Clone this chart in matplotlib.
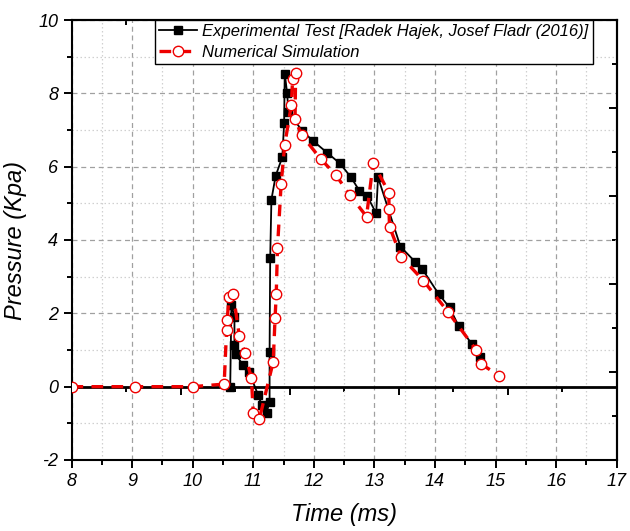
import matplotlib
matplotlib.use("Agg")
import matplotlib.pyplot as plt
from matplotlib.ticker import MultipleLocator, NullFormatter

plt.rcParams['font.family'] = ['Liberation Sans', 'DejaVu Sans']
plt.rcParams['font.style'] = 'italic'
plt.rcParams['axes.unicode_minus'] = False

# Experimental test data (time ms, pressure kPa)
exp_t = [10.62, 10.64, 10.69, 10.69, 10.71, 10.83, 10.93, 11.08, 11.14, 11.22, 11.27,
         11.27, 11.28, 11.30, 11.37, 11.48, 11.51, 11.52, 11.56, 11.58, 11.81, 11.99,
         12.22, 12.43, 12.61, 12.75, 12.88, 13.03, 13.06, 13.43, 13.67, 13.79, 14.06,
         14.24, 14.39, 14.61, 14.74]
exp_p = [0.0, 2.23, 1.91, 1.14, 0.89, 0.59, 0.41, -0.23, -0.50, -0.71, -0.41,
         0.95, 3.50, 5.10, 5.75, 6.26, 7.20, 8.54, 8.00, 7.50, 6.97, 6.70,
         6.38, 6.09, 5.72, 5.35, 5.20, 4.73, 5.71, 3.82, 3.41, 3.21, 2.53,
         2.16, 1.66, 1.16, 0.80]

# Numerical simulation data
sim_t = [8.0, 9.05, 10.0, 10.52, 10.56, 10.57, 10.60, 10.67, 10.77, 10.86, 10.97,
         11.00, 11.10, 11.33, 11.36, 11.38, 11.40, 11.46, 11.52, 11.63, 11.65, 11.70,
         11.69, 11.80, 12.12, 12.36, 12.59, 12.87, 12.98, 13.24, 13.24, 13.25, 13.44,
         13.81, 14.22, 14.68, 14.76, 15.06]
sim_p = [0.0, 0.0, 0.0, 0.07, 1.55, 1.82, 2.44, 2.53, 1.38, 0.93, 0.23,
         -0.71, -0.89, 0.68, 1.86, 2.53, 3.77, 5.52, 6.60, 7.69, 8.40, 8.56,
         7.29, 6.86, 6.20, 5.78, 5.24, 4.64, 6.10, 5.29, 4.84, 4.36, 3.55,
         2.89, 2.03, 1.00, 0.62, 0.30]

exp_label = "Experimental Test [Radek Hajek, Josef Fladr (2016)]"
sim_label = "Numerical Simulation"
xlabel = "Time (ms)"
ylabel = "Pressure (Kpa)"

fig = plt.figure(figsize=(6.30, 5.31), dpi=100)
ax = fig.add_axes([71.5/630, 1-460/531, 545.2/630, 440/531])

ax.set_xlim(8, 17)
ax.set_ylim(-2, 10)

# grid
ax.xaxis.set_major_locator(MultipleLocator(1))
ax.xaxis.set_minor_locator(MultipleLocator(0.5))
ax.yaxis.set_major_locator(MultipleLocator(2))
ax.yaxis.set_minor_locator(MultipleLocator(1))
ax.grid(True, which='major', color='#a0a0a0', linestyle=(0, (4, 3)), linewidth=0.9)
ax.grid(True, which='minor', color='#d0d0d0', linestyle=(0, (1.2, 2)), linewidth=0.9)
ax.set_axisbelow(True)

# zero line
ax.axhline(0, color='black', linewidth=2.0, zorder=3)

ax.plot(exp_t, exp_p, color='black', linewidth=1.3, marker='s', markersize=6,
        markerfacecolor='black', markeredgecolor='black', label=exp_label, zorder=4)
ax.plot(sim_t, sim_p, color='#ee0000', linewidth=2.4, linestyle=(0, (3.5, 2.5)),
        marker='o', markersize=7.5, markerfacecolor='white', markeredgecolor='#ee0000',
        markeredgewidth=1.0, label=sim_label, zorder=5)

for s in ax.spines.values():
    s.set_linewidth(1.5)
    s.set_color('black')

ax.tick_params(which='both', direction='out', width=1.4, labelsize=13, color='black')
ax.tick_params(which='major', length=6)
ax.tick_params(which='minor', length=3.5)
ax.tick_params(top=False, right=False)

# secondary scales drawn as in the original (top, right, and zero line)
fwd = lambda v: (v - 8) / 0.9
inv = lambda v: v * 0.9 + 8
top = ax.secondary_xaxis('top', functions=(fwd, inv))
top.xaxis.set_major_locator(MultipleLocator(2))
top.xaxis.set_minor_locator(MultipleLocator(1))
top.xaxis.set_major_formatter(NullFormatter())
top.tick_params(which='both', direction='in', width=1.4)
top.tick_params(which='major', length=6)
top.tick_params(which='minor', length=3.5)
top.spines['top'].set_linewidth(1.5)

zl = ax.secondary_xaxis(1/6, functions=(fwd, inv))
zl.xaxis.set_major_locator(MultipleLocator(2))
zl.xaxis.set_minor_locator(MultipleLocator(1))
zl.xaxis.set_major_formatter(NullFormatter())
zl.tick_params(which='both', direction='out', width=1.4)
zl.tick_params(which='major', length=6)
zl.tick_params(which='minor', length=3.5)
for s in zl.spines.values():
    s.set_visible(False)

fy = lambda v: (v + 2) / 1.2
iy = lambda v: v * 1.2 - 2
rt = ax.secondary_yaxis('right', functions=(fy, iy))
rt.yaxis.set_major_locator(MultipleLocator(2))
rt.yaxis.set_minor_locator(MultipleLocator(1))
rt.yaxis.set_major_formatter(NullFormatter())
rt.tick_params(which='both', direction='in', width=1.4)
rt.tick_params(which='major', length=6)
rt.tick_params(which='minor', length=3.5)
rt.spines['right'].set_linewidth(1.5)

ax.set_xlabel(xlabel, fontsize=17, labelpad=9)
ax.set_ylabel(ylabel, fontsize=17, labelpad=8)

leg = ax.legend(loc='upper right', bbox_to_anchor=(521.2/545.2, 1.0), borderaxespad=0,
                fontsize=12, frameon=True, fancybox=False, framealpha=1,
                edgecolor='black', borderpad=0.25, handlelength=2.3, handletextpad=0.3,
                labelspacing=0.35)
leg.get_frame().set_linewidth(1.0)
leg.set_zorder(10)

fig.savefig("out.png", dpi=100)
